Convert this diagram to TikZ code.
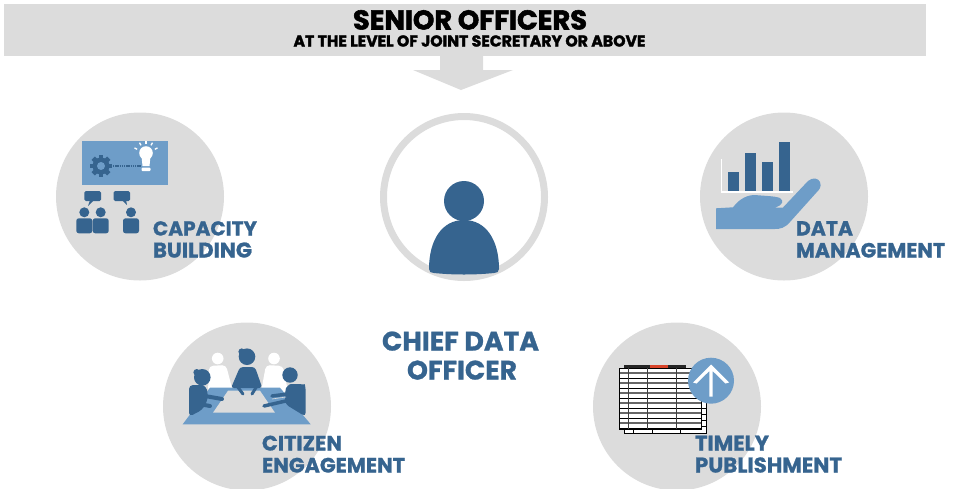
\documentclass[tikz,border=0pt]{standalone}
\usepackage{fontspec}
\setmainfont{Poppins}[BoldFeatures={FakeBold=1.0}]
\newfontfamily\hdrfont{Poppins}[BoldFeatures={FakeBold=2.0}]
\definecolor{cgray}{HTML}{DCDCDC}
\definecolor{cdark}{HTML}{36648F}
\definecolor{clight}{HTML}{6E9DC8}
\definecolor{cred}{HTML}{D8442A}
\newcommand{\fitx}[2]{\resizebox{#1pt}{!}{#2}}
\tikzset{
  disc/.style={fill=cgray,draw=none},
  darkfill/.style={fill=cdark,draw=none},
  lightfill/.style={fill=clight,draw=none},
  whitefill/.style={fill=white,draw=none},
  label/.style={inner sep=0pt,outer sep=0pt,anchor=base west,text=cdark,font=\bfseries},
  hdr/.style={inner sep=0pt,outer sep=0pt,anchor=base,text=black,font=\hdrfont\bfseries},
}
\begin{document}
\begin{tikzpicture}[x=1pt,y=-1pt]
\useasboundingbox (0,0) rectangle (955,488);
% banner and arrow
\fill[cgray] (4,4) rectangle (926,56);
\fill[cgray] (440,56) -- (483,56) -- (483,70) -- (513,70) -- (461,90) -- (413,70) -- (440,70) -- cycle;
\node[hdr] (senior) at (470,29.5) {\fitx{234}{SENIOR OFFICERS}};
\node[hdr] (level) at (469.5,46.5) {\fitx{352}{AT THE LEVEL OF JOINT SECRETARY OR ABOVE}};
% circles (the lower two run off the page)
\begin{scope}
\clip (0,0) rectangle (955,488);
\fill[disc] (140,196.5) circle (84);
\fill[disc] (784,196.5) circle (84);
\fill[disc] (247,406.5) circle (84);
\fill[disc] (677,406.5) circle (84);
\end{scope}
\draw[cgray,line width=7pt] (464,197) circle (80.5);
% chief data officer
\fill[darkfill] (464,201) circle (20);
\fill[darkfill] (429,269) .. controls (429,240) and (442,220) .. (464,220) .. controls (486,220) and (499,240) .. (499,269) .. controls (499,272) and (497,273) .. (494,273) .. controls (475,275) and (453,275) .. (434,273) .. controls (431,273) and (429,272) .. (429,269) -- cycle;
% capacity building icon
\fill[lightfill] (82,141) rectangle (168,185);
\foreach \a in {0,45,...,315}{
  \fill[darkfill,shift={(101,166)},rotate=\a] (-2.4,-11) rectangle (2.4,-6);
}
\fill[darkfill] (101,166) circle (8.5);
\fill[lightfill] (101,166) circle (4);
\draw[cdark,line width=1.3pt,dash pattern=on 1.3pt off 0.9pt] (113,166) -- (141,166);
\fill[whitefill] (146,153) circle (6.8);
\fill[whitefill] (141.5,156) -- (150.5,156) -- (149.5,166) -- (142.5,166) -- cycle;
\fill[whitefill,rounded corners=1pt] (141.5,167.5) rectangle (150.5,171);
\foreach \a in {-62,-30,0,30,62}{
  \draw[white,line width=1.3pt,shift={(146,154)},rotate=\a] (0,-10) -- (0,-13);
}
\fill[darkfill,rounded corners=1.5pt] (84.3,191) rectangle (101,201);
\fill[darkfill] (90,200) -- (94,200) -- (88,206) -- cycle;
\fill[darkfill,rounded corners=1.5pt] (113.7,191) rectangle (130,201);
\fill[darkfill] (122,200) -- (126,200) -- (127,205) -- cycle;
\foreach \px in {84.3,100.7,131}{
  \fill[darkfill] (\px,212.3) circle (5);
  \fill[darkfill,rounded corners=2.5pt] (\px-8,233.3) -- (\px-8,218.3) -- (\px+8,218.3) -- (\px+8,233.3) -- cycle;
}
\node[label] (cap1) at (153,235.5) {\fitx{104}{CAPACITY}};
\node[label] (cap2) at (153,257.5) {\fitx{99}{BUILDING}};
% data management icon
\fill[darkfill] (728,172) rectangle (739,191);
\fill[darkfill] (745,153) rectangle (756,191);
\fill[darkfill] (762,162) rectangle (773,191);
\fill[darkfill] (779,142) rectangle (790,191);
\draw[white,line width=1.5pt] (721.7,159.3) -- (721.7,192) -- (793,192);
\fill[lightfill] (716,208.3) -- (733,207.3) .. controls (740,198) and (748,195) .. (755,195) .. controls (765,196) and (775,196) .. (780,198) .. controls (784,201) and (783,205) .. (775,207.5) -- (783,207.5) -- (808,181) .. controls (813,177) and (818,178) .. (820,182) .. controls (822,187) and (819,190) .. (816,193) -- (790,222) .. controls (785,228) and (780,229) .. (775,229) -- (716,229) -- cycle;
\node[label] (dat1) at (796,235.5) {\fitx{57}{DATA}};
\node[label] (dat2) at (796,257.5) {\fitx{149}{MANAGEMENT}};
% citizen engagement icon
\fill[whitefill] (217.7,358.5) circle (5.8);
\fill[whitefill] (274,358.5) circle (5.8);
\fill[whitefill,rounded corners=4pt] (208,392) -- (209,366) -- (226,365) -- (233,392) -- cycle;
\fill[whitefill,rounded corners=4pt] (261,392) -- (266,365) -- (283,366) -- (288,392) -- cycle;
\fill[lightfill] (182.7,424.3) -- (210,387.7) -- (280,387.7) -- (310.7,424.3) -- cycle;
\fill[cgray] (213,412.7) -- (228,390.7) -- (260,390.7) -- (275,412.7) -- cycle;
\fill[darkfill] (247,356.7) circle (8.3);
\fill[darkfill] (241.7,351.7) circle (3.3);
\fill[darkfill,rounded corners=3pt] (231,388) -- (240,367) -- (255,367) -- (262.3,388) -- cycle;
\draw[cdark,line width=3pt,line cap=round] (237,386) -- (243,394);
\draw[cdark,line width=3pt,line cap=round] (257,386) -- (252,394);
\fill[darkfill] (202.3,377.3) circle (8.3);
\fill[darkfill] (196.7,372.3) circle (3.3);
\fill[darkfill,rounded corners=4pt] (189,416.7) -- (189,385) -- (198,385) .. controls (205,385) and (207,390) .. (208,394) -- (207,402) -- (202,410) -- cycle;
\draw[cdark,line width=4pt,line cap=round] (205,396) -- (222,399);
\draw[cdark,line width=4pt,line cap=round] (199,404) -- (210,406);
\fill[darkfill] (290,375) circle (7.7);
\fill[darkfill,rounded corners=4pt] (305.7,416.7) -- (305.7,388) .. controls (305,385) and (300,384) .. (295,384) .. controls (289,384) and (286,388) .. (285,392) -- (285,404) -- cycle;
\draw[cdark,line width=3.5pt,line cap=round] (272,396) -- (288,394);
\draw[cdark,line width=3.5pt,line cap=round] (264,406) -- (290,400);
\draw[cgray,line width=0.6pt] (272,399) -- (286,397);
\node[label] (cit1) at (262,450.5) {\fitx{80}{CITIZEN}};
\node[label] (cit2) at (262,472.5) {\fitx{143}{ENGAGEMENT}};
% timely publishment icon
\fill[whitefill] (624,372) rectangle (706.7,433.7);
\draw[black,line width=0.7pt] (624,372) rectangle (706.7,433.7);
\fill[black!85] (624,364.5) rectangle (686,368.5);
\fill[cred] (650,364.5) rectangle (668,368.5);
\fill[whitefill] (619,368.3) rectangle (701.7,429.3);
\foreach \yy in {373,383,393,403,413,423}{
  \draw[black!60,line width=1.1pt] (619,\yy) -- (701.7,\yy);
}
\foreach \yy in {378,388,398,408,418,428}{
  \draw[black,line width=0.8pt] (619,\yy) -- (701.7,\yy);
}
\draw[black,line width=0.9pt] (619,368.3) rectangle (701.7,429.3);
\foreach \xx in {628.3,647.7,676}{
  \draw[black!75,line width=1pt] (\xx,368.3) -- (\xx,429.3);
}
\foreach \xx in {633,652,680.5}{
  \draw[black,line width=0.6pt] (\xx,429.3) -- (\xx,433.7);
}
\foreach \yy in {408,414,420,426}{
  \draw[black,line width=0.5pt] (701.7,\yy) -- (706.7,\yy);
}
\fill[lightfill] (711,380.7) circle (23);
\fill[whitefill] (711,364.5) -- (729,382.5) -- (725.5,383.5) -- (712.7,371) -- (712.7,396.5) -- (709.3,396.5) -- (709.3,371) -- (696.5,383.5) -- (693,382.5) -- cycle;
\node[label] (tim1) at (695,450.5) {\fitx{74}{TIMELY}};
\node[label] (tim2) at (695,472.5) {\fitx{147}{PUBLISHMENT}};
% centre caption
\node[label] (chf1) at (382,350.5) {\fitx{157}{CHIEF DATA}};
\node[label] (chf2) at (407,379.5) {\fitx{110}{OFFICER}};
\end{tikzpicture}
\end{document}
